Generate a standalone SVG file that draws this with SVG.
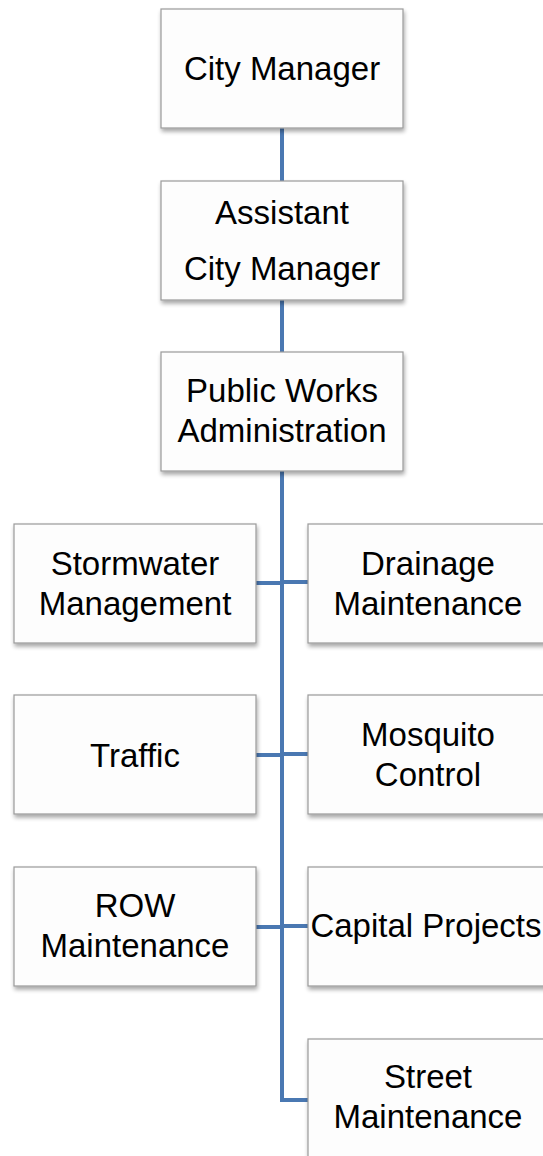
<svg xmlns="http://www.w3.org/2000/svg" width="543" height="1156" viewBox="0 0 543 1156">
<defs>
<filter id="sh" x="-10%" y="-10%" width="130%" height="130%">
<feGaussianBlur in="SourceAlpha" stdDeviation="2"/>
<feOffset dx="1" dy="3" result="b"/>
<feComponentTransfer><feFuncA type="linear" slope="0.35"/></feComponentTransfer>
<feMerge><feMergeNode/><feMergeNode in="SourceGraphic"/></feMerge>
</filter>
</defs>
<style>
.box{fill:#fdfdfd;stroke:#9a9a9a;stroke-width:1.2;filter:url(#sh)}
.t{font-family:"Liberation Sans",Arial,sans-serif;font-size:33px;fill:#000;text-anchor:middle}
.c{fill:none;stroke:#4a78b2;stroke-width:4}
</style>
<rect width="543" height="1156" fill="#ffffff"/>
<g id="connectors">
<line class="c" x1="282" y1="128" x2="282" y2="181"/>
<line class="c" x1="282" y1="300" x2="282" y2="352"/>
<polyline class="c" points="282,471 282,1100 308,1100"/>
<line class="c" x1="256" y1="583" x2="282" y2="583"/>
<line class="c" x1="282" y1="582" x2="308" y2="582"/>
<line class="c" x1="256" y1="755" x2="282" y2="755"/>
<line class="c" x1="282" y1="754" x2="308" y2="754"/>
<line class="c" x1="256" y1="927" x2="282" y2="927"/>
<line class="c" x1="282" y1="926" x2="308" y2="926"/>
</g>
<g id="city-manager">
<rect class="box" x="161" y="9" width="242" height="119"/>
<text class="t" x="282" y="80">City Manager</text>
</g>
<g id="assistant-city-manager">
<rect class="box" x="161" y="181" width="242" height="119"/>
<text class="t" x="282" y="224">Assistant</text>
<text class="t" x="282" y="280">City Manager</text>
</g>
<g id="public-works">
<rect class="box" x="161" y="352" width="242" height="119"/>
<text class="t" x="282" y="402">Public Works</text>
<text class="t" x="282" y="442">Administration</text>
</g>
<g id="stormwater">
<rect class="box" x="14" y="524" width="242" height="119"/>
<text class="t" x="135" y="575">Stormwater</text>
<text class="t" x="135" y="615">Management</text>
</g>
<g id="drainage">
<rect class="box" x="308" y="524" width="242" height="119"/>
<text class="t" x="428" y="575">Drainage</text>
<text class="t" x="428" y="615">Maintenance</text>
</g>
<g id="traffic">
<rect class="box" x="14" y="695" width="242" height="119"/>
<text class="t" x="135" y="767">Traffic</text>
</g>
<g id="mosquito">
<rect class="box" x="308" y="695" width="242" height="119"/>
<text class="t" x="428" y="746">Mosquito</text>
<text class="t" x="428" y="786">Control</text>
</g>
<g id="row-maintenance">
<rect class="box" x="14" y="867" width="242" height="119"/>
<text class="t" x="135" y="917">ROW</text>
<text class="t" x="135" y="957">Maintenance</text>
</g>
<g id="capital-projects">
<rect class="box" x="308" y="867" width="242" height="119"/>
<text class="t" x="426" y="937">Capital Projects</text>
</g>
<g id="street-maintenance">
<rect class="box" x="308" y="1039" width="242" height="125"/>
<text class="t" x="428" y="1088">Street</text>
<text class="t" x="428" y="1128">Maintenance</text>
</g>
</svg>
